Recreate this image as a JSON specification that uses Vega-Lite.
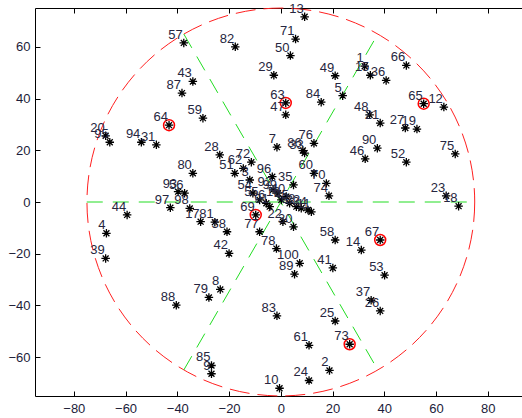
{
  "$schema": "https://vega.github.io/schema/vega-lite/v6.json",
  "autosize": "none",
  "padding": {"left": 35, "top": 8, "right": 0, "bottom": 22},
  "width": 487,
  "height": 388,
  "background": "white",
  "config": {
    "view": {"stroke": null},
    "font": "Liberation Sans",
    "axis": {
      "grid": false,
      "domainColor": "#000",
      "domainWidth": 1,
      "tickColor": "#000",
      "tickWidth": 1,
      "labelFont": "Liberation Sans",
      "labelFontSize": 13,
      "labelColor": "#1c1c3a",
      "title": null
    }
  },
  "datasets": {
    "sites": [
      {"id": "57", "x": -37.5, "y": 61.5, "marked": false},
      {"id": "64", "x": -43.2, "y": 29.7, "marked": true},
      {"id": "87", "x": -38.2, "y": 42.1, "marked": false},
      {"id": "43", "x": -34.0, "y": 46.6, "marked": false},
      {"id": "59", "x": -30.1, "y": 32.4, "marked": false},
      {"id": "82", "x": -17.6, "y": 60.0, "marked": false},
      {"id": "13", "x": 9.2, "y": 71.6, "marked": false},
      {"id": "71", "x": 5.7, "y": 63.0, "marked": false},
      {"id": "50", "x": 3.7, "y": 56.6, "marked": false},
      {"id": "29", "x": -2.7, "y": 49.0, "marked": false},
      {"id": "63", "x": 1.9, "y": 38.3, "marked": true},
      {"id": "47", "x": 1.9, "y": 33.7, "marked": false},
      {"id": "84", "x": 15.6, "y": 38.6, "marked": false},
      {"id": "49", "x": 21.0, "y": 48.8, "marked": false},
      {"id": "5", "x": 23.9, "y": 41.1, "marked": false},
      {"id": "1", "x": 32.4, "y": 52.5, "marked": false},
      {"id": "15", "x": 34.6, "y": 49.0, "marked": false},
      {"id": "36", "x": 40.7, "y": 47.0, "marked": false},
      {"id": "66", "x": 48.5, "y": 52.8, "marked": false},
      {"id": "65", "x": 55.2, "y": 38.0, "marked": true},
      {"id": "12", "x": 63.0, "y": 36.7, "marked": false},
      {"id": "48", "x": 34.3, "y": 33.7, "marked": false},
      {"id": "21", "x": 38.4, "y": 30.5, "marked": false},
      {"id": "27", "x": 48.1, "y": 28.6, "marked": false},
      {"id": "19", "x": 52.6, "y": 28.2, "marked": false},
      {"id": "90", "x": 37.3, "y": 20.8, "marked": false},
      {"id": "46", "x": 32.6, "y": 16.7, "marked": false},
      {"id": "52", "x": 48.5, "y": 15.4, "marked": false},
      {"id": "75", "x": 67.4, "y": 18.6, "marked": false},
      {"id": "23", "x": 63.9, "y": 2.4, "marked": false},
      {"id": "18", "x": 68.7, "y": -1.6, "marked": false},
      {"id": "67", "x": 38.4, "y": -14.7, "marked": true},
      {"id": "14", "x": 31.1, "y": -18.6, "marked": false},
      {"id": "53", "x": 40.1, "y": -28.3, "marked": false},
      {"id": "37", "x": 34.9, "y": -38.0, "marked": false},
      {"id": "26", "x": 38.4, "y": -42.1, "marked": false},
      {"id": "73", "x": 26.6, "y": -55.0, "marked": true},
      {"id": "79", "x": -27.8, "y": -36.9, "marked": false},
      {"id": "8", "x": -23.4, "y": -33.8, "marked": false},
      {"id": "88", "x": -40.4, "y": -39.9, "marked": false},
      {"id": "83", "x": -1.5, "y": -44.0, "marked": false},
      {"id": "25", "x": 21.0, "y": -46.0, "marked": false},
      {"id": "61", "x": 10.9, "y": -55.4, "marked": false},
      {"id": "85", "x": -26.8, "y": -63.2, "marked": false},
      {"id": "9", "x": -26.8, "y": -66.4, "marked": false},
      {"id": "2", "x": 18.8, "y": -65.1, "marked": false},
      {"id": "24", "x": 10.9, "y": -69.0, "marked": false},
      {"id": "10", "x": -0.5, "y": -72.0, "marked": false},
      {"id": "20", "x": -67.7, "y": 25.6, "marked": false},
      {"id": "95", "x": -66.1, "y": 23.1, "marked": false},
      {"id": "94", "x": -53.9, "y": 23.1, "marked": false},
      {"id": "31", "x": -48.1, "y": 22.1, "marked": false},
      {"id": "44", "x": -59.4, "y": -5.0, "marked": false},
      {"id": "4", "x": -67.4, "y": -12.1, "marked": false},
      {"id": "39", "x": -67.7, "y": -21.8, "marked": false},
      {"id": "97", "x": -42.7, "y": -2.2, "marked": false},
      {"id": "93", "x": -39.7, "y": 4.0, "marked": false},
      {"id": "56", "x": -37.2, "y": 3.4, "marked": false},
      {"id": "98", "x": -35.2, "y": -2.5, "marked": false},
      {"id": "17", "x": -31.0, "y": -7.6, "marked": false},
      {"id": "81", "x": -25.5, "y": -7.8, "marked": false},
      {"id": "80", "x": -34.0, "y": 11.1, "marked": false},
      {"id": "28", "x": -23.6, "y": 18.2, "marked": false},
      {"id": "72", "x": -11.4, "y": 15.4, "marked": false},
      {"id": "7", "x": -1.5, "y": 21.2, "marked": false},
      {"id": "86", "x": 8.5, "y": 19.9, "marked": false},
      {"id": "33", "x": 9.2, "y": 18.9, "marked": false},
      {"id": "76", "x": 12.8, "y": 22.7, "marked": false},
      {"id": "60", "x": 12.8, "y": 11.1, "marked": false},
      {"id": "70", "x": 17.6, "y": 7.2, "marked": false},
      {"id": "74", "x": 18.6, "y": 2.4, "marked": false},
      {"id": "35", "x": 4.9, "y": 6.6, "marked": false},
      {"id": "96", "x": -3.3, "y": 9.8, "marked": false},
      {"id": "42", "x": -20.0, "y": -19.9, "marked": false},
      {"id": "38", "x": -20.8, "y": -11.5, "marked": false},
      {"id": "69", "x": -9.7, "y": -5.0, "marked": true},
      {"id": "77", "x": -8.2, "y": -11.5, "marked": false},
      {"id": "78", "x": -1.7, "y": -18.0, "marked": false},
      {"id": "30", "x": 4.9, "y": -9.6, "marked": false},
      {"id": "100", "x": 7.3, "y": -23.7, "marked": false},
      {"id": "89", "x": 5.3, "y": -27.9, "marked": false},
      {"id": "41", "x": 20.1, "y": -25.5, "marked": false},
      {"id": "58", "x": 21.0, "y": -14.7, "marked": false},
      {"id": "51", "x": -17.8, "y": 11.1, "marked": false},
      {"id": "62", "x": -14.5, "y": 13.0, "marked": false},
      {"id": "3", "x": -12.0, "y": 8.5, "marked": false},
      {"id": "54", "x": -10.8, "y": 3.4, "marked": false},
      {"id": "55", "x": -8.2, "y": 0.8, "marked": false},
      {"id": "6", "x": -5.6, "y": -0.5, "marked": false},
      {"id": "92", "x": -3.0, "y": 4.7, "marked": false},
      {"id": "91", "x": -4.3, "y": -1.8, "marked": false},
      {"id": "99", "x": -1.1, "y": 3.4, "marked": false},
      {"id": "16", "x": 0.2, "y": 0.8, "marked": false},
      {"id": "40", "x": 2.1, "y": 2.1, "marked": false},
      {"id": "45", "x": 3.4, "y": -0.5, "marked": false},
      {"id": "68", "x": 6.0, "y": -1.8, "marked": false},
      {"id": "32", "x": 7.9, "y": -2.4, "marked": false},
      {"id": "34", "x": 10.5, "y": -3.1, "marked": false},
      {"id": "11", "x": 11.8, "y": -3.8, "marked": false},
      {"id": "22", "x": 0.8, "y": -7.6, "marked": false}
    ]
  },
  "layer": [
    {
      "description": "Coverage boundary, radius 75 around the origin; carries the frame lines and tick labels",
      "data": {"values": [{"x": 0, "y": 0}]},
      "mark": {"type": "point", "shape": "circle", "filled": false, "size": 150350, "stroke": "#ff2020", "strokeWidth": 1, "strokeDash": [20, 8], "opacity": 1},
      "encoding": {
        "x": {"field": "x", "type": "quantitative", "scale": {"domain": [-95, 93.2], "nice": false, "zero": false}, "axis": {"orient": "top", "labels": false, "ticks": false, "tickSize": 0, "values": [-80, -60, -40, -20, 0, 20, 40, 60, 80]}},
        "y": {"field": "y", "type": "quantitative", "scale": {"domain": [-75, 75], "nice": false, "zero": false}, "axis": {"orient": "left", "ticks": false, "tickSize": 0, "labelPadding": 5, "values": [-60, -40, -20, 0, 20, 40, 60]}}
      }
    },
    {
      "description": "Sector boundaries every 60 degrees; carries the inward ticks on top and left",
      "data": {"values": [
        {"x": -75, "y": 0, "x2": 75, "y2": 0},
        {"x": -37.5, "y": -64.95, "x2": 37.5, "y2": 64.95},
        {"x": -37.5, "y": 64.95, "x2": 37.5, "y2": -64.95}
      ]},
      "mark": {"type": "rule", "stroke": "#22dd22", "strokeWidth": 1, "strokeDash": [16, 10]},
      "encoding": {
        "x": {"field": "x", "type": "quantitative", "axis": {"orient": "top", "offset": -5, "domain": false, "labels": false, "tickSize": 5, "values": [-80, -60, -40, -20, 0, 20, 40, 60, 80]}},
        "y": {"field": "y", "type": "quantitative", "axis": {"orient": "left", "offset": -5, "domain": false, "labels": false, "tickSize": 5, "values": [-60, -40, -20, 0, 20, 40, 60]}},
        "x2": {"field": "x2"},
        "y2": {"field": "y2"}
      }
    },
    {
      "data": {"name": "sites"},
      "transform": [{"filter": "datum.marked"}],
      "mark": {"type": "point", "shape": "circle", "filled": false, "size": 120, "stroke": "#ff0000", "strokeWidth": 1.5, "opacity": 1},
      "encoding": {
        "x": {"field": "x", "type": "quantitative", "axis": {"orient": "bottom", "ticks": false, "tickSize": 0, "labelPadding": 6, "values": [-80, -60, -40, -20, 0, 20, 40, 60, 80]}},
        "y": {"field": "y", "type": "quantitative", "axis": null}
      }
    },
    {
      "data": {"name": "sites"},
      "mark": {"type": "point", "shape": "M-1,0L1,0M0,-1L0,1M-0.7,-0.7L0.7,0.7M-0.7,0.7L0.7,-0.7", "filled": false, "size": 72, "stroke": "#000", "strokeWidth": 1.3, "opacity": 1},
      "encoding": {
        "x": {"field": "x", "type": "quantitative", "axis": {"orient": "bottom", "offset": -5, "domain": false, "labels": false, "tickSize": 5, "values": [-80, -60, -40, -20, 0, 20, 40, 60, 80]}},
        "y": {"field": "y", "type": "quantitative", "axis": null}
      }
    },
    {
      "data": {"name": "sites"},
      "mark": {"type": "text", "align": "right", "baseline": "alphabetic", "dx": -1, "dy": -4, "font": "Liberation Sans", "fontSize": 13, "fill": "#262640"},
      "encoding": {
        "x": {"field": "x", "type": "quantitative", "axis": null},
        "y": {"field": "y", "type": "quantitative", "axis": null},
        "text": {"field": "id"}
      }
    }
  ],
  "resolve": {"axis": {"x": "independent", "y": "independent"}}
}
